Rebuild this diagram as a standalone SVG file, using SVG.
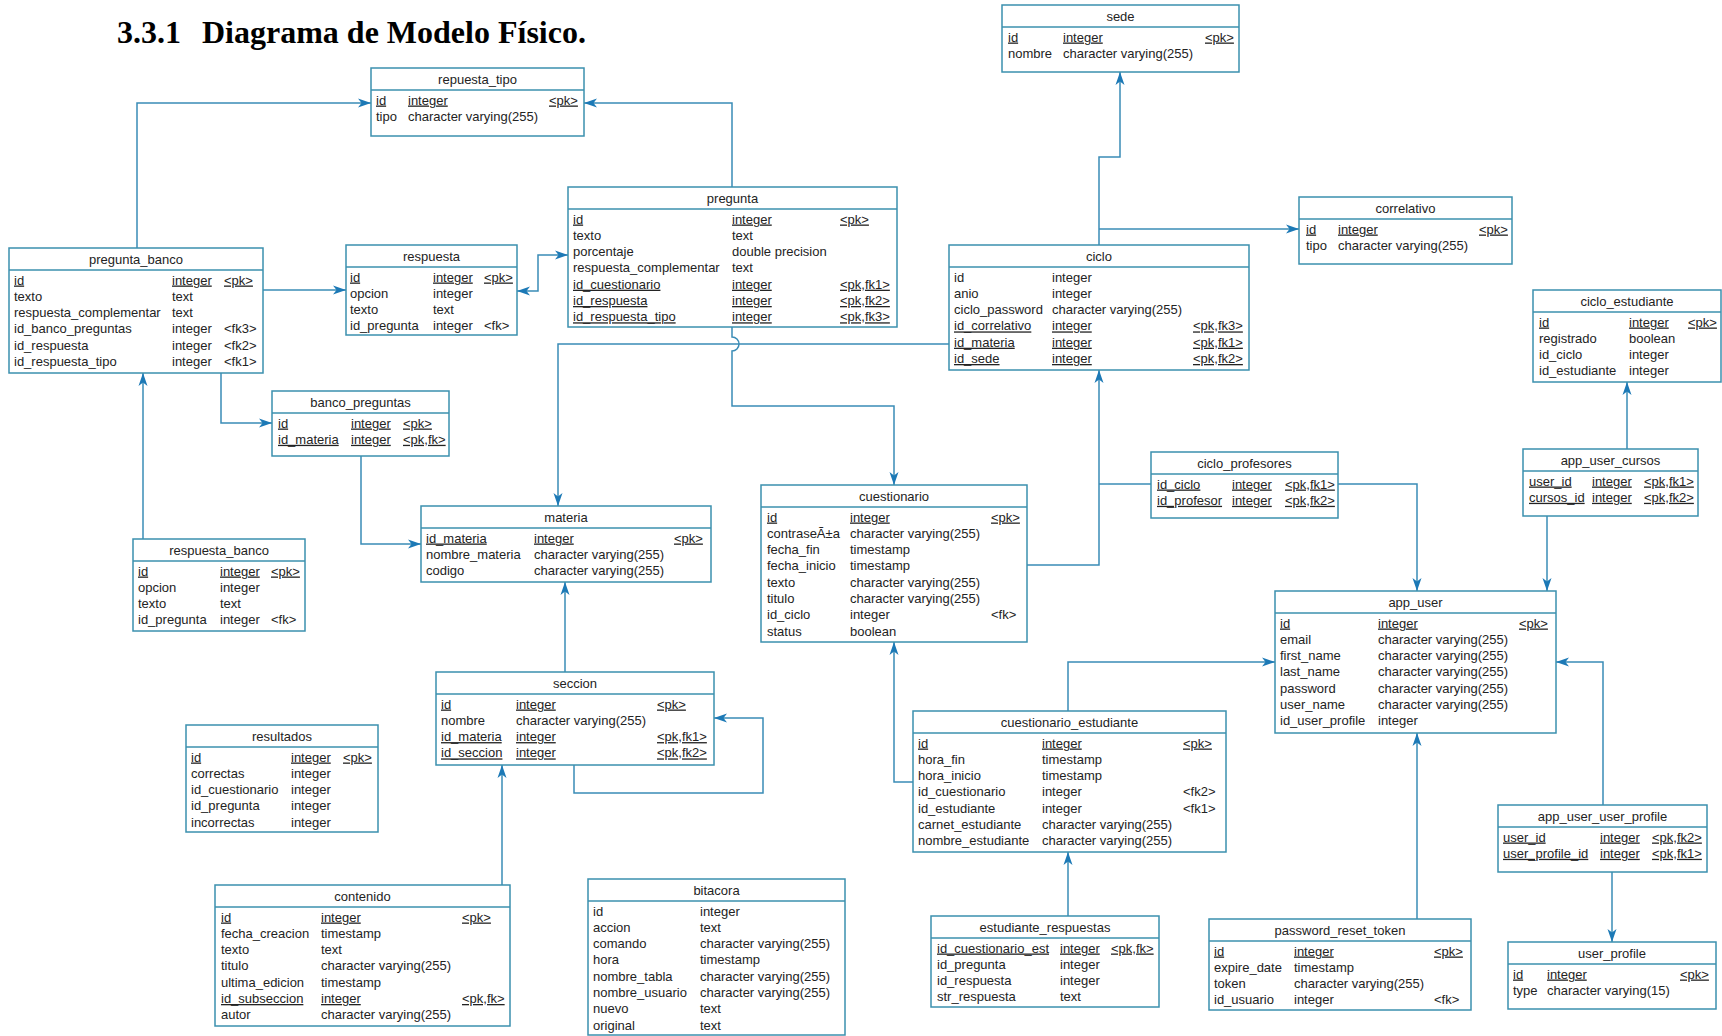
<svg xmlns="http://www.w3.org/2000/svg" width="1722" height="1036" viewBox="0 0 1722 1036">
  <style>
    .box { fill: #ffffff; stroke: #3b90ae; stroke-width: 1.5; }
    .sep { stroke: #3b90ae; stroke-width: 1.5; }
    text { font-family: "Liberation Sans", Arial, sans-serif; font-size: 13px; fill: #232323; }
    .hd { text-anchor: middle; }
    .u { text-decoration: underline; }
    .title { font-family: "Liberation Serif", "Times New Roman", serif; font-size: 32px; font-weight: bold; fill: #000; }
    .conn { fill: none; stroke: #3a8cb6; stroke-width: 1.5; marker-end: url(#arr); }
    .plain { fill: none; stroke: #3a8cb6; stroke-width: 1.5; }
  </style>
  <defs>
    <marker id="arr" viewBox="-14 -6 15 12" refX="0" refY="0" markerWidth="15" markerHeight="12" markerUnits="userSpaceOnUse" orient="auto-start-reverse">
      <path d="M0,0 L-13,-4.5 L-9.5,0 L-13,4.5 Z" fill="#1c79b6"/>
    </marker>
  </defs>
  <rect width="1722" height="1036" fill="#ffffff"/>

  <text class="title" x="117" y="43">3.3.1</text>
  <text class="title" x="202" y="43">Diagrama de Modelo Físico.</text>

  <!-- relationships -->
  <g id="connectors">
    <path class="conn" d="M137,248 V103 H371"/>
    <path class="conn" d="M732,187 V103 H584"/>
    <path class="conn" d="M263,290 H346"/>
    <path class="conn" d="M517,291 H538 V255 H568" marker-start="url(#arr)"/>
    <path class="conn" d="M221,373 V423 H272"/>
    <path class="conn" d="M143,539 V373"/>
    <path class="conn" d="M361,456 V544 H421"/>
    <path class="conn" d="M949,344 H558 V506"/>
    <path class="conn" d="M732,326 V337 A7,7 0 0 1 732,351 V406 H894 V485"/>
    <path class="conn" d="M1099,245 V157 H1120 V72"/>
    <path class="conn" d="M1099,229 H1299"/>
    <path class="conn" d="M1027,565 H1099 V370"/>
    <path class="plain" d="M1151,484 H1099"/>
    <path class="conn" d="M1338,484 H1417 V591"/>
    <path class="conn" d="M1627,449 V382"/>
    <path class="conn" d="M1547,516 V591"/>
    <path class="conn" d="M1068,711 V662 H1275"/>
    <path class="conn" d="M913,782 H894 V642"/>
    <path class="conn" d="M1603,805 V662 H1556"/>
    <path class="conn" d="M1612,872 V942"/>
    <path class="conn" d="M1417,919 V733"/>
    <path class="conn" d="M1068,916 V852"/>
    <path class="conn" d="M565,672 V582"/>
    <path class="conn" d="M574,765 V793 H763 V718 H714"/>
    <path class="conn" d="M502,885 V765"/>
  </g>

  <g id="repuesta_tipo">
    <rect class="box" x="371" y="68" width="213" height="68"/>
    <line class="sep" x1="371" y1="90" x2="584" y2="90"/>
    <text class="hd" x="477.5" y="83.5">repuesta_tipo</text>
    <text class="u" x="376" y="104.5">id</text><text class="u" x="408" y="104.5">integer</text><text class="u" x="549" y="104.5">&lt;pk&gt;</text>
    <text x="376" y="120.8">tipo</text><text x="408" y="120.8">character varying(255)</text>
  </g>

  <g id="sede">
    <rect class="box" x="1002" y="5" width="237" height="67"/>
    <line class="sep" x1="1002" y1="27" x2="1239" y2="27"/>
    <text class="hd" x="1120.5" y="20.5">sede</text>
    <text class="u" x="1008" y="41.5">id</text><text class="u" x="1063" y="41.5">integer</text><text class="u" x="1205" y="41.5">&lt;pk&gt;</text>
    <text x="1008" y="57.8">nombre</text><text x="1063" y="57.8">character varying(255)</text>
  </g>

  <g id="pregunta">
    <rect class="box" x="568" y="187" width="329" height="140"/>
    <line class="sep" x1="568" y1="209" x2="897" y2="209"/>
    <text class="hd" x="732.5" y="202.5">pregunta</text>
    <text class="u" x="573" y="223.5">id</text><text class="u" x="732" y="223.5">integer</text><text class="u" x="840" y="223.5">&lt;pk&gt;</text>
    <text x="573" y="239.8">texto</text><text x="732" y="239.8">text</text>
    <text x="573" y="256.1">porcentaje</text><text x="732" y="256.1">double precision</text>
    <text x="573" y="272.4">respuesta_complementar</text><text x="732" y="272.4">text</text>
    <text class="u" x="573" y="288.7">id_cuestionario</text><text class="u" x="732" y="288.7">integer</text><text class="u" x="840" y="288.7">&lt;pk,fk1&gt;</text>
    <text class="u" x="573" y="305">id_respuesta</text><text class="u" x="732" y="305">integer</text><text class="u" x="840" y="305">&lt;pk,fk2&gt;</text>
    <text class="u" x="573" y="321.3">id_respuesta_tipo</text><text class="u" x="732" y="321.3">integer</text><text class="u" x="840" y="321.3">&lt;pk,fk3&gt;</text>
  </g>

  <g id="correlativo">
    <rect class="box" x="1299" y="197" width="213" height="67"/>
    <line class="sep" x1="1299" y1="219" x2="1512" y2="219"/>
    <text class="hd" x="1405.5" y="212.5">correlativo</text>
    <text class="u" x="1306" y="233.5">id</text><text class="u" x="1338" y="233.5">integer</text><text class="u" x="1479" y="233.5">&lt;pk&gt;</text>
    <text x="1306" y="249.8">tipo</text><text x="1338" y="249.8">character varying(255)</text>
  </g>

  <g id="ciclo">
    <rect class="box" x="949" y="245" width="300" height="125"/>
    <line class="sep" x1="949" y1="267" x2="1249" y2="267"/>
    <text class="hd" x="1099" y="260.5">ciclo</text>
    <text x="954" y="281.5">id</text><text x="1052" y="281.5">integer</text>
    <text x="954" y="297.8">anio</text><text x="1052" y="297.8">integer</text>
    <text x="954" y="314.1">ciclo_password</text><text x="1052" y="314.1">character varying(255)</text>
    <text class="u" x="954" y="330.4">id_correlativo</text><text class="u" x="1052" y="330.4">integer</text><text class="u" x="1193" y="330.4">&lt;pk,fk3&gt;</text>
    <text class="u" x="954" y="346.7">id_materia</text><text class="u" x="1052" y="346.7">integer</text><text class="u" x="1193" y="346.7">&lt;pk,fk1&gt;</text>
    <text class="u" x="954" y="363">id_sede</text><text class="u" x="1052" y="363">integer</text><text class="u" x="1193" y="363">&lt;pk,fk2&gt;</text>
  </g>

  <g id="pregunta_banco">
    <rect class="box" x="9" y="248" width="254" height="125"/>
    <line class="sep" x1="9" y1="270" x2="263" y2="270"/>
    <text class="hd" x="136" y="263.5">pregunta_banco</text>
    <text class="u" x="14" y="284.5">id</text><text class="u" x="172" y="284.5">integer</text><text class="u" x="224" y="284.5">&lt;pk&gt;</text>
    <text x="14" y="300.8">texto</text><text x="172" y="300.8">text</text>
    <text x="14" y="317.1">respuesta_complementar</text><text x="172" y="317.1">text</text>
    <text x="14" y="333.4">id_banco_preguntas</text><text x="172" y="333.4">integer</text><text x="224" y="333.4">&lt;fk3&gt;</text>
    <text x="14" y="349.7">id_respuesta</text><text x="172" y="349.7">integer</text><text x="224" y="349.7">&lt;fk2&gt;</text>
    <text x="14" y="366">id_respuesta_tipo</text><text x="172" y="366">integer</text><text x="224" y="366">&lt;fk1&gt;</text>
  </g>

  <g id="respuesta">
    <rect class="box" x="346" y="245" width="171" height="90"/>
    <line class="sep" x1="346" y1="267" x2="517" y2="267"/>
    <text class="hd" x="431.5" y="260.5">respuesta</text>
    <text class="u" x="350" y="281.5">id</text><text class="u" x="433" y="281.5">integer</text><text class="u" x="484" y="281.5">&lt;pk&gt;</text>
    <text x="350" y="297.8">opcion</text><text x="433" y="297.8">integer</text>
    <text x="350" y="314.1">texto</text><text x="433" y="314.1">text</text>
    <text x="350" y="330.4">id_pregunta</text><text x="433" y="330.4">integer</text><text x="484" y="330.4">&lt;fk&gt;</text>
  </g>

  <g id="ciclo_estudiante">
    <rect class="box" x="1533" y="290" width="188" height="92"/>
    <line class="sep" x1="1533" y1="312" x2="1721" y2="312"/>
    <text class="hd" x="1627" y="305.5">ciclo_estudiante</text>
    <text class="u" x="1539" y="326.5">id</text><text class="u" x="1629" y="326.5">integer</text><text class="u" x="1688" y="326.5">&lt;pk&gt;</text>
    <text x="1539" y="342.8">registrado</text><text x="1629" y="342.8">boolean</text>
    <text x="1539" y="359.1">id_ciclo</text><text x="1629" y="359.1">integer</text>
    <text x="1539" y="375.4">id_estudiante</text><text x="1629" y="375.4">integer</text>
  </g>

  <g id="banco_preguntas">
    <rect class="box" x="272" y="391" width="177" height="65"/>
    <line class="sep" x1="272" y1="413" x2="449" y2="413"/>
    <text class="hd" x="360.5" y="406.5">banco_preguntas</text>
    <text class="u" x="278" y="427.5">id</text><text class="u" x="351" y="427.5">integer</text><text class="u" x="403" y="427.5">&lt;pk&gt;</text>
    <text class="u" x="278" y="443.8">id_materia</text><text class="u" x="351" y="443.8">integer</text><text class="u" x="403" y="443.8">&lt;pk,fk&gt;</text>
  </g>

  <g id="ciclo_profesores">
    <rect class="box" x="1151" y="452" width="187" height="66"/>
    <line class="sep" x1="1151" y1="474" x2="1338" y2="474"/>
    <text class="hd" x="1244.5" y="467.5">ciclo_profesores</text>
    <text class="u" x="1157" y="488.5">id_ciclo</text><text class="u" x="1232" y="488.5">integer</text><text class="u" x="1285" y="488.5">&lt;pk,fk1&gt;</text>
    <text class="u" x="1157" y="504.8">id_profesor</text><text class="u" x="1232" y="504.8">integer</text><text class="u" x="1285" y="504.8">&lt;pk,fk2&gt;</text>
  </g>

  <g id="app_user_cursos">
    <rect class="box" x="1523" y="449" width="175" height="67"/>
    <line class="sep" x1="1523" y1="471" x2="1698" y2="471"/>
    <text class="hd" x="1610.5" y="464.5">app_user_cursos</text>
    <text class="u" x="1529" y="485.5">user_id</text><text class="u" x="1592" y="485.5">integer</text><text class="u" x="1644" y="485.5">&lt;pk,fk1&gt;</text>
    <text class="u" x="1529" y="501.8">cursos_id</text><text class="u" x="1592" y="501.8">integer</text><text class="u" x="1644" y="501.8">&lt;pk,fk2&gt;</text>
  </g>

  <g id="cuestionario">
    <rect class="box" x="761" y="485" width="266" height="157"/>
    <line class="sep" x1="761" y1="507" x2="1027" y2="507"/>
    <text class="hd" x="894" y="500.5">cuestionario</text>
    <text class="u" x="767" y="521.5">id</text><text class="u" x="850" y="521.5">integer</text><text class="u" x="991" y="521.5">&lt;pk&gt;</text>
    <text x="767" y="537.8">contraseÃ±a</text><text x="850" y="537.8">character varying(255)</text>
    <text x="767" y="554.1">fecha_fin</text><text x="850" y="554.1">timestamp</text>
    <text x="767" y="570.4">fecha_inicio</text><text x="850" y="570.4">timestamp</text>
    <text x="767" y="586.7">texto</text><text x="850" y="586.7">character varying(255)</text>
    <text x="767" y="603">titulo</text><text x="850" y="603">character varying(255)</text>
    <text x="767" y="619.3">id_ciclo</text><text x="850" y="619.3">integer</text><text x="991" y="619.3">&lt;fk&gt;</text>
    <text x="767" y="635.6">status</text><text x="850" y="635.6">boolean</text>
  </g>

  <g id="materia">
    <rect class="box" x="421" y="506" width="290" height="76"/>
    <line class="sep" x1="421" y1="528" x2="711" y2="528"/>
    <text class="hd" x="566" y="521.5">materia</text>
    <text class="u" x="426" y="542.5">id_materia</text><text class="u" x="534" y="542.5">integer</text><text class="u" x="674" y="542.5">&lt;pk&gt;</text>
    <text x="426" y="558.8">nombre_materia</text><text x="534" y="558.8">character varying(255)</text>
    <text x="426" y="575.1">codigo</text><text x="534" y="575.1">character varying(255)</text>
  </g>

  <g id="respuesta_banco">
    <rect class="box" x="133" y="539" width="172" height="92"/>
    <line class="sep" x1="133" y1="561" x2="305" y2="561"/>
    <text class="hd" x="219" y="554.5">respuesta_banco</text>
    <text class="u" x="138" y="575.5">id</text><text class="u" x="220" y="575.5">integer</text><text class="u" x="271" y="575.5">&lt;pk&gt;</text>
    <text x="138" y="591.8">opcion</text><text x="220" y="591.8">integer</text>
    <text x="138" y="608.1">texto</text><text x="220" y="608.1">text</text>
    <text x="138" y="624.4">id_pregunta</text><text x="220" y="624.4">integer</text><text x="271" y="624.4">&lt;fk&gt;</text>
  </g>

  <g id="app_user">
    <rect class="box" x="1275" y="591" width="281" height="142"/>
    <line class="sep" x1="1275" y1="613" x2="1556" y2="613"/>
    <text class="hd" x="1415.5" y="606.5">app_user</text>
    <text class="u" x="1280" y="627.5">id</text><text class="u" x="1378" y="627.5">integer</text><text class="u" x="1519" y="627.5">&lt;pk&gt;</text>
    <text x="1280" y="643.8">email</text><text x="1378" y="643.8">character varying(255)</text>
    <text x="1280" y="660.1">first_name</text><text x="1378" y="660.1">character varying(255)</text>
    <text x="1280" y="676.4">last_name</text><text x="1378" y="676.4">character varying(255)</text>
    <text x="1280" y="692.7">password</text><text x="1378" y="692.7">character varying(255)</text>
    <text x="1280" y="709">user_name</text><text x="1378" y="709">character varying(255)</text>
    <text x="1280" y="725.3">id_user_profile</text><text x="1378" y="725.3">integer</text>
  </g>

  <g id="seccion">
    <rect class="box" x="436" y="672" width="278" height="93"/>
    <line class="sep" x1="436" y1="694" x2="714" y2="694"/>
    <text class="hd" x="575" y="687.5">seccion</text>
    <text class="u" x="441" y="708.5">id</text><text class="u" x="516" y="708.5">integer</text><text class="u" x="657" y="708.5">&lt;pk&gt;</text>
    <text x="441" y="724.8">nombre</text><text x="516" y="724.8">character varying(255)</text>
    <text class="u" x="441" y="741.1">id_materia</text><text class="u" x="516" y="741.1">integer</text><text class="u" x="657" y="741.1">&lt;pk,fk1&gt;</text>
    <text class="u" x="441" y="757.4">id_seccion</text><text class="u" x="516" y="757.4">integer</text><text class="u" x="657" y="757.4">&lt;pk,fk2&gt;</text>
  </g>

  <g id="resultados">
    <rect class="box" x="186" y="725" width="192" height="107"/>
    <line class="sep" x1="186" y1="747" x2="378" y2="747"/>
    <text class="hd" x="282" y="740.5">resultados</text>
    <text class="u" x="191" y="761.5">id</text><text class="u" x="291" y="761.5">integer</text><text class="u" x="343" y="761.5">&lt;pk&gt;</text>
    <text x="191" y="777.8">correctas</text><text x="291" y="777.8">integer</text>
    <text x="191" y="794.1">id_cuestionario</text><text x="291" y="794.1">integer</text>
    <text x="191" y="810.4">id_pregunta</text><text x="291" y="810.4">integer</text>
    <text x="191" y="826.7">incorrectas</text><text x="291" y="826.7">integer</text>
  </g>

  <g id="cuestionario_estudiante">
    <rect class="box" x="913" y="711" width="313" height="141"/>
    <line class="sep" x1="913" y1="733" x2="1226" y2="733"/>
    <text class="hd" x="1069.5" y="726.5">cuestionario_estudiante</text>
    <text class="u" x="918" y="747.5">id</text><text class="u" x="1042" y="747.5">integer</text><text class="u" x="1183" y="747.5">&lt;pk&gt;</text>
    <text x="918" y="763.8">hora_fin</text><text x="1042" y="763.8">timestamp</text>
    <text x="918" y="780.1">hora_inicio</text><text x="1042" y="780.1">timestamp</text>
    <text x="918" y="796.4">id_cuestionario</text><text x="1042" y="796.4">integer</text><text x="1183" y="796.4">&lt;fk2&gt;</text>
    <text x="918" y="812.7">id_estudiante</text><text x="1042" y="812.7">integer</text><text x="1183" y="812.7">&lt;fk1&gt;</text>
    <text x="918" y="829">carnet_estudiante</text><text x="1042" y="829">character varying(255)</text>
    <text x="918" y="845.3">nombre_estudiante</text><text x="1042" y="845.3">character varying(255)</text>
  </g>

  <g id="app_user_user_profile">
    <rect class="box" x="1498" y="805" width="209" height="67"/>
    <line class="sep" x1="1498" y1="827" x2="1707" y2="827"/>
    <text class="hd" x="1602.5" y="820.5">app_user_user_profile</text>
    <text class="u" x="1503" y="841.5">user_id</text><text class="u" x="1600" y="841.5">integer</text><text class="u" x="1652" y="841.5">&lt;pk,fk2&gt;</text>
    <text class="u" x="1503" y="857.8">user_profile_id</text><text class="u" x="1600" y="857.8">integer</text><text class="u" x="1652" y="857.8">&lt;pk,fk1&gt;</text>
  </g>

  <g id="contenido">
    <rect class="box" x="215" y="885" width="295" height="141"/>
    <line class="sep" x1="215" y1="907" x2="510" y2="907"/>
    <text class="hd" x="362.5" y="900.5">contenido</text>
    <text class="u" x="221" y="921.5">id</text><text class="u" x="321" y="921.5">integer</text><text class="u" x="462" y="921.5">&lt;pk&gt;</text>
    <text x="221" y="937.8">fecha_creacion</text><text x="321" y="937.8">timestamp</text>
    <text x="221" y="954.1">texto</text><text x="321" y="954.1">text</text>
    <text x="221" y="970.4">titulo</text><text x="321" y="970.4">character varying(255)</text>
    <text x="221" y="986.7">ultima_edicion</text><text x="321" y="986.7">timestamp</text>
    <text class="u" x="221" y="1003">id_subseccion</text><text class="u" x="321" y="1003">integer</text><text class="u" x="462" y="1003">&lt;pk,fk&gt;</text>
    <text x="221" y="1019.3">autor</text><text x="321" y="1019.3">character varying(255)</text>
  </g>

  <g id="bitacora">
    <rect class="box" x="588" y="879" width="257" height="156"/>
    <line class="sep" x1="588" y1="901" x2="845" y2="901"/>
    <text class="hd" x="716.5" y="894.5">bitacora</text>
    <text x="593" y="915.5">id</text><text x="700" y="915.5">integer</text>
    <text x="593" y="931.8">accion</text><text x="700" y="931.8">text</text>
    <text x="593" y="948.1">comando</text><text x="700" y="948.1">character varying(255)</text>
    <text x="593" y="964.4">hora</text><text x="700" y="964.4">timestamp</text>
    <text x="593" y="980.7">nombre_tabla</text><text x="700" y="980.7">character varying(255)</text>
    <text x="593" y="997">nombre_usuario</text><text x="700" y="997">character varying(255)</text>
    <text x="593" y="1013.3">nuevo</text><text x="700" y="1013.3">text</text>
    <text x="593" y="1029.6">original</text><text x="700" y="1029.6">text</text>
  </g>

  <g id="estudiante_respuestas">
    <rect class="box" x="931" y="916" width="228" height="91"/>
    <line class="sep" x1="931" y1="938" x2="1159" y2="938"/>
    <text class="hd" x="1045" y="931.5">estudiante_respuestas</text>
    <text class="u" x="937" y="952.5">id_cuestionario_est</text><text class="u" x="1060" y="952.5">integer</text><text class="u" x="1111" y="952.5">&lt;pk,fk&gt;</text>
    <text x="937" y="968.8">id_pregunta</text><text x="1060" y="968.8">integer</text>
    <text x="937" y="985.1">id_respuesta</text><text x="1060" y="985.1">integer</text>
    <text x="937" y="1001.4">str_respuesta</text><text x="1060" y="1001.4">text</text>
  </g>

  <g id="password_reset_token">
    <rect class="box" x="1209" y="919" width="262" height="91"/>
    <line class="sep" x1="1209" y1="941" x2="1471" y2="941"/>
    <text class="hd" x="1340" y="934.5">password_reset_token</text>
    <text class="u" x="1214" y="955.5">id</text><text class="u" x="1294" y="955.5">integer</text><text class="u" x="1434" y="955.5">&lt;pk&gt;</text>
    <text x="1214" y="971.8">expire_date</text><text x="1294" y="971.8">timestamp</text>
    <text x="1214" y="988.1">token</text><text x="1294" y="988.1">character varying(255)</text>
    <text x="1214" y="1004.4">id_usuario</text><text x="1294" y="1004.4">integer</text><text x="1434" y="1004.4">&lt;fk&gt;</text>
  </g>

  <g id="user_profile">
    <rect class="box" x="1508" y="942" width="208" height="67"/>
    <line class="sep" x1="1508" y1="964" x2="1716" y2="964"/>
    <text class="hd" x="1612" y="957.5">user_profile</text>
    <text class="u" x="1513" y="978.5">id</text><text class="u" x="1547" y="978.5">integer</text><text class="u" x="1680" y="978.5">&lt;pk&gt;</text>
    <text x="1513" y="994.8">type</text><text x="1547" y="994.8">character varying(15)</text>
  </g>
</svg>
